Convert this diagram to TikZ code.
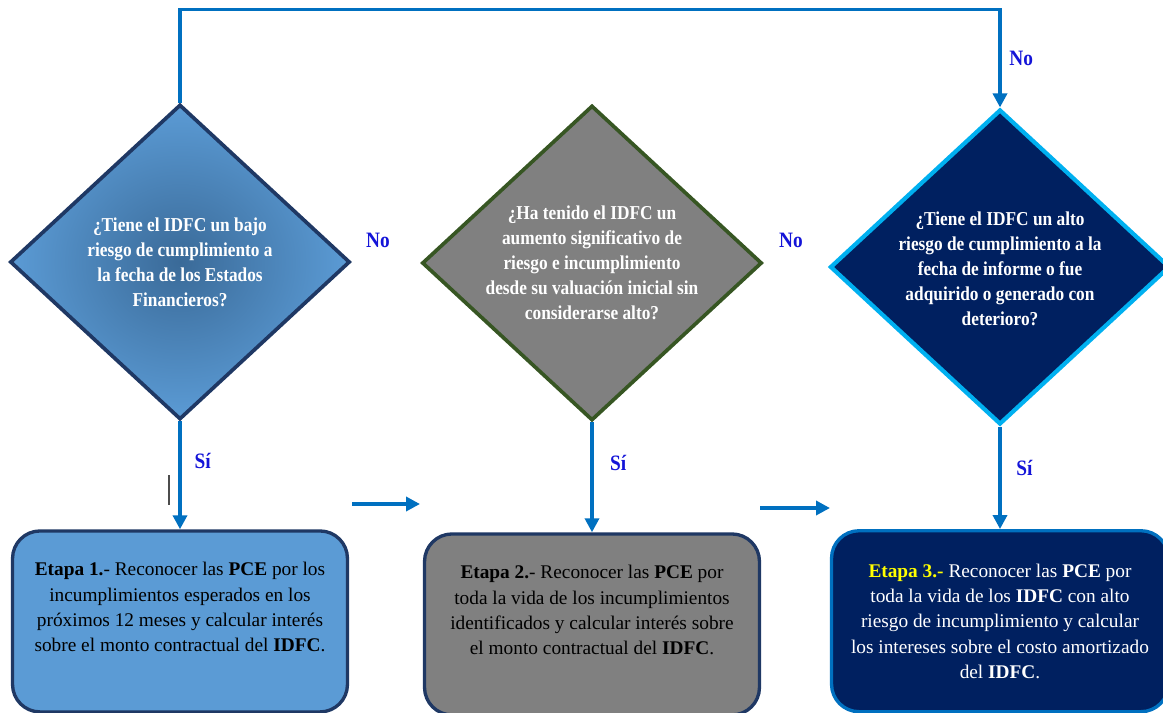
\documentclass[tikz,border=0pt]{standalone}
\usepackage{fontspec}
\setmainfont{Liberation Serif}
\newfontfamily\narrowserif[FakeStretch=0.88]{Liberation Serif}
\usepackage{tikz}
\usetikzlibrary{positioning, shapes.geometric, arrows.meta}
\definecolor{LightBlueFill}{HTML}{5B9BD5}
\definecolor{LightBlueCore}{HTML}{3A6A98}
\definecolor{NavyLine}{HTML}{1F3864}
\definecolor{GrayFill}{HTML}{808080}
\definecolor{OliveLine}{HTML}{375623}
\definecolor{NavyFill}{HTML}{002060}
\definecolor{SkyLine}{HTML}{00B0F0}
\definecolor{ArrowBlue}{HTML}{0070C0}
\definecolor{AnswerBlue}{HTML}{1414D8}
\definecolor{EtapaYellow}{HTML}{FFFF00}

\begin{document}
\begin{tikzpicture}[
    x=0.02cm, y=-0.02cm,
    question/.style={diamond, aspect=1.07, minimum width=6.8cm, minimum height=6.3cm, inner sep=0pt, line width=2.1pt, text=white, align=center, font=\narrowserif\bfseries\fontsize{11.2}{14.2}\selectfont},
    stage/.style={rectangle, rounded corners=0.55cm, minimum width=6.7cm, minimum height=3.62cm, line width=1.9pt, align=center, font=\fontsize{11}{14.4}\selectfont},
    arrow/.style={->, >={Triangle[length=0.28cm, width=0.28cm]}, line width=2pt, color=ArrowBlue},
    answer/.style={text=AnswerBlue, font=\narrowserif\bfseries\fontsize{12.5}{14}\selectfont}
]
    \useasboundingbox (0,0) rectangle (1163,713);

    \node (Q1) [question, draw=NavyLine, inner color=LightBlueCore, outer color=LightBlueFill] at (180,262)
        {¿Tiene el IDFC un bajo\\riesgo de cumplimiento a\\la fecha de los Estados\\Financieros?};
    \node (Q2) [question, draw=OliveLine, fill=GrayFill] at (592,263)
        {¿Ha tenido el IDFC un\\aumento significativo de\\riesgo e incumplimiento\\desde su valuación inicial sin\\considerarse alto?};
    \node (Q3) [question, draw=SkyLine, line width=2.4pt, fill=NavyFill] at (1000,267)
        {\mbox{}\\[-4pt]¿Tiene el IDFC un alto\\riesgo de cumplimiento a la\\fecha de informe o fue\\adquirido o generado con\\deterioro?};

    \node (E1) [stage, draw=NavyLine, fill=LightBlueFill, below=2.16cm of Q1]
        {\textbf{Etapa 1.}- Reconocer las \textbf{PCE} por los\\incumplimientos esperados en los\\próximos 12 meses y calcular interés\\sobre el monto contractual del \textbf{IDFC}.\\[2pt]\mbox{}};
    \node (E2) [stage, draw=NavyLine, fill=GrayFill, below=2.2cm of Q2]
        {\textbf{Etapa 2.}- Reconocer las \textbf{PCE} por\\toda la vida de los incumplimientos\\identificados y calcular interés sobre\\el monto contractual del \textbf{IDFC}.\\[2pt]\mbox{}};
    \node (E3) [stage, draw=ArrowBlue, fill=NavyFill, text=white, minimum width=6.74cm, below=2.05cm of Q3]
        {\textcolor{EtapaYellow}{\textbf{Etapa 3.-}} Reconocer las \textbf{PCE} por\\toda la vida de los \textbf{IDFC} con alto\\riesgo de incumplimiento y calcular\\los intereses sobre el costo amortizado\\del \textbf{IDFC}.};

    \node (no1) [answer] at (378,240) {No};
    \node (no2) [answer] at (791,240) {No};

    \coordinate (h1a) at (352,504);
    \coordinate (h1b) at (420,504);
    \coordinate (h2a) at (760,508);
    \coordinate (h2b) at (830,508);

    \draw[arrow] (Q1.north) -- ++(0,-93) -| node[pos=0.75, right=1pt, answer] (no3) {No} (Q3.north);
    \draw[arrow] (Q1.south) -- node[pos=0.37, right=4pt, answer] (si1) {Sí} (E1.north);
    \draw[arrow] (Q2.south) -- node[pos=0.37, right=6pt, answer] (si2) {Sí} (E2.north);
    \draw[arrow] (Q3.south) -- node[pos=0.4, right=5pt, answer] (si3) {Sí} (E3.north);
    \draw[arrow] (h1a) -- (h1b);
    \draw[arrow] (h2a) -- (h2b);

    \draw[line width=0.6pt, black!70] (169,475) -- (169,505);
\end{tikzpicture}
\end{document}
